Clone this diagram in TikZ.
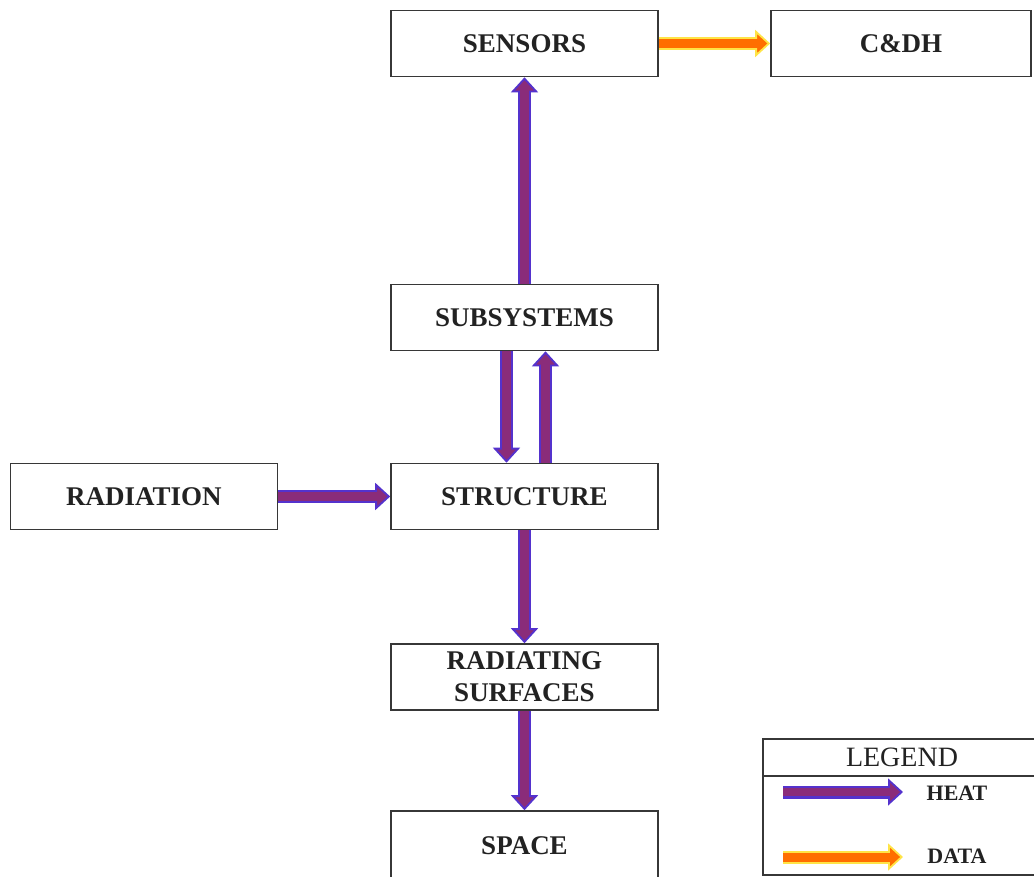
\documentclass[tikz,border=0pt]{standalone}
\usepackage{fontspec}
\setmainfont{Liberation Serif}
\usetikzlibrary{arrows.meta}

\definecolor{boxline}{RGB}{55,55,55}
\definecolor{textcol}{RGB}{34,34,34}
\definecolor{heatedge}{RGB}{84,50,205}
\definecolor{heatfill}{RGB}{138,44,122}
\definecolor{dataglow}{RGB}{255,228,70}
\definecolor{datafill}{RGB}{255,110,0}

\tikzset{
  block/.style={draw=boxline, line width=1.6pt, fill=white, text=textcol,
    minimum width=267pt, minimum height=66pt, inner sep=0pt, align=center,
    font=\fontsize{27}{32}\selectfont\bfseries},
  heatouter/.style={draw=heatedge, line width=13pt,
    -{Triangle[length=15pt,width=27pt,fill=heatfill,line width=1.8pt]}},
  heatinner/.style={draw=heatfill, line width=8.5pt, shorten >=12pt},
  dataouter/.style={draw=dataglow, line width=13pt,
    -{Triangle[length=15pt,width=27pt,fill=datafill,line width=1.8pt]}},
  datainner/.style={draw=datafill, line width=9pt, shorten >=12pt},
  legtext/.style={text=textcol, font=\fontsize{22}{26}\selectfont\bfseries},
}

\newcommand\heatlink[2]{\draw[heatouter] #1 -- #2; \draw[heatinner] #1 -- #2;}
\newcommand\datalink[2]{\draw[dataouter] #1 -- #2; \draw[datainner] #1 -- #2;}

\begin{document}
\begin{tikzpicture}[x=1pt, y=-1pt]
  \clip (0,0) rectangle (1034,876);
  \fill[white] (0,0) rectangle (1034,876);

  % blocks
  \node[block] (sens) at (524.5,43.5) {SENSORS};
  \node[block, minimum width=260pt] (cdh) at (901,43.5) {C\&DH};
  \node[block] (sub) at (524.5,317.5) {SUBSYSTEMS};
  \node[block] (rad) at (144,496.5) {RADIATION};
  \node[block] (str) at (524.5,496.5) {STRUCTURE};
  \node[block] (surf) at (524.5,677) {RADIATING\\SURFACES};
  \node[block, minimum height=70pt] (space) at (524.5,846) {SPACE};

  % heat flow
  \heatlink{(sub.north)}{(sens.south)}
  \heatlink{([xshift=-18pt]sub.south)}{([xshift=-18pt]str.north)}
  \heatlink{([xshift=21pt]str.north)}{([xshift=21pt]sub.south)}
  \heatlink{(rad.east)}{(str.west)}
  \heatlink{(str.south)}{(surf.north)}
  \heatlink{(surf.south)}{(space.north)}

  % data flow
  \datalink{(sens.east)}{(cdh.west)}

  % legend
  \draw[boxline, line width=1.6pt, fill=white] (763,739) rectangle (1045,875);
  \draw[boxline, line width=1.6pt] (763,776) -- (1045,776);
  \node[text=textcol, font=\fontsize{28}{32}\selectfont] (legtitle) at (902,757) {LEGEND};
  \coordinate (hs) at (783,792);
  \coordinate (he) at (903,792);
  \coordinate (ds) at (783,857);
  \coordinate (de) at (903,857);
  \heatlink{(hs)}{(he)}
  \datalink{(ds)}{(de)}
  \node[legtext] (heatlbl) at (957,793) {HEAT};
  \node[legtext] (datalbl) at (957,856) {DATA};
\end{tikzpicture}
\end{document}
